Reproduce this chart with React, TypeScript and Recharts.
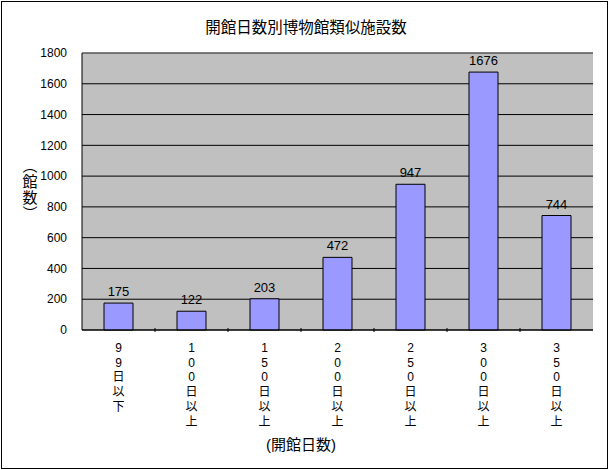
import React from 'react'
import {
  BarChart, Bar, XAxis, YAxis, CartesianGrid, LabelList, ReferenceLine,
} from 'recharts'

const categories = ['99日以下', '100日以上', '150日以上', '200日以上', '250日以上', '300日以上', '350日以上']
const counts = [175, 122, 203, 472, 947, 1676, 744]
const yTicks = [0, 200, 400, 600, 800, 1000, 1200, 1400, 1600, 1800]
// vertical presentation forms of （館数）
const yAxisTitle = ['︵', '館', '数', '︶']

const FONT = '"Liberation Sans", "Noto Sans CJK JP", sans-serif'
const CJK = '"Noto Sans CJK JP", sans-serif'

const data = categories.map((c, i) => ({ name: c, count: counts[i] }))

const W = 610
const H = 470
const PLOT_LEFT = 82
const PLOT_RIGHT = 17
const step = (W - PLOT_LEFT - PLOT_RIGHT) / categories.length

// vertical stacked label, one character per line, plus a small inside tick at the category boundary
const VerticalTick = (props: any) => {
  const { x, y, payload, index } = props
  const chars = String(payload.value).split('')
  return (
    <g>
      {index < categories.length - 1 && (
        <line x1={x + step / 2} x2={x + step / 2} y1={y} y2={y - 4} stroke="#000" />
      )}
      <text x={x} y={y} textAnchor="middle" fontSize={12} fontFamily={FONT} fill="#000">
        {chars.map((ch, i) => (
          <tspan key={i} x={x} dy={i === 0 ? 20 : 14.7}>{ch}</tspan>
        ))}
      </text>
    </g>
  )
}

export default function App() {
  return (
    <div style={{ position: 'absolute', left: 0, top: 0, width: W, height: H, background: '#fff', fontFamily: FONT }}>
      <div style={{ position: 'absolute', left: 1, top: 1, width: 605, height: 466, border: '1px solid #000' }} />
      <div style={{ position: 'absolute', left: 0, top: 15, width: W + 2, textAlign: 'center', fontSize: 15.5, fontFamily: CJK, lineHeight: '22px' }}>
        開館日数別博物館類似施設数
      </div>
      <svg style={{ position: 'absolute', left: 0, top: 0 }} width={60} height={H}>
        <text x={30} y={158} textAnchor="middle" fontSize={15} fontFamily={CJK} fill="#000">
          {yAxisTitle.map((ch, i) => (
            <tspan key={i} x={30} dy={i === 0 ? 13 : 16}>{ch}</tspan>
          ))}
        </text>
      </svg>
      <div style={{ position: 'absolute', left: 0, top: 434, width: W - 8, textAlign: 'center', fontSize: 15, fontFamily: FONT, lineHeight: '22px' }}>
        (開館日数)
      </div>
      <div style={{ position: 'absolute', left: 0, top: 0 }}>
        <BarChart width={W} height={H} data={data} margin={{ top: 53, right: PLOT_RIGHT, bottom: 0, left: 0 }}>
          <CartesianGrid vertical={false} fill="#C0C0C0" fillOpacity={1} stroke="#000" strokeOpacity={1} />
          <XAxis
            dataKey="name"
            height={140}
            tick={<VerticalTick />}
            tickSize={0}
            tickLine={false}
            axisLine={{ stroke: '#000' }}
            interval={0}
          />
          <YAxis
            width={PLOT_LEFT}
            domain={[0, 1800]}
            ticks={yTicks}
            tickSize={0}
            tickMargin={15}
            tickLine={false}
            axisLine={{ stroke: '#000' }}
            tick={{ fontSize: 12, fill: '#000', fontFamily: FONT }}
          />
          <YAxis
            yAxisId="r"
            orientation="right"
            width={0}
            tick={false}
            tickLine={false}
            axisLine={{ stroke: '#808080' }}
          />
          <ReferenceLine y={1800} stroke="#808080" />
          <Bar dataKey="count" fill="#9999FF" stroke="#000" strokeWidth={1} barSize={29} isAnimationActive={false}>
            <LabelList dataKey="count" position="top" offset={7} fontSize={13} fill="#000" fontFamily={FONT} />
          </Bar>
        </BarChart>
      </div>
    </div>
  )
}
